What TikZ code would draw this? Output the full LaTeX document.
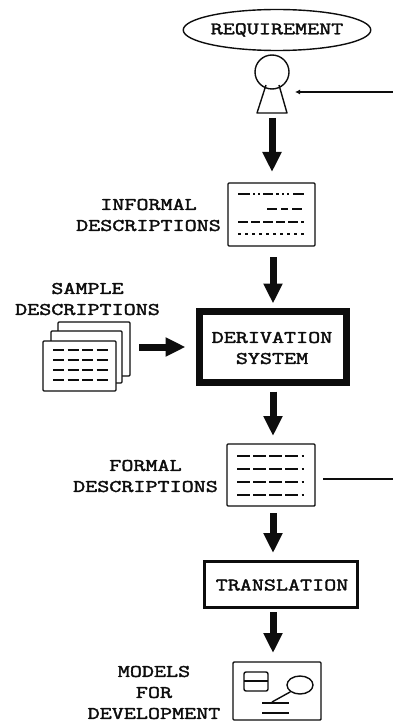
\documentclass[tikz,border=0pt]{standalone}
\usepackage{fontspec}
\usetikzlibrary{arrows.meta,shapes.geometric}
\setmonofont[FakeStretch=1.33,FakeBold=2.2]{Latin Modern Mono}
\definecolor{ink}{gray}{0.05}
\tikzset{
  lab/.style={font=\ttfamily\fontsize{17.6}{21}\selectfont,text=ink,align=center,inner sep=0pt,outer sep=0pt},
  docbox/.style={draw=ink,line width=1.4pt,rectangle,rounded corners=1pt,inner sep=0pt,outer sep=0pt,fill=white},
  procbox/.style={draw=ink,rectangle,inner sep=0pt,outer sep=0pt},
  bigarrow/.style={draw=ink,line width=7pt,-{Triangle[width=18pt,length=20pt,fill=ink]}},
  thin line/.style={draw=ink,line width=1.4pt},
  dashA/.style={thin line,dash pattern=on 12pt off 3pt on 2pt off 3pt on 2pt off 3pt on 10pt off 3pt on 3pt off 3pt on 2pt off 3pt on 2pt off 4pt},
  dashB/.style={thin line,dash pattern=on 10pt off 4pt on 7pt off 4pt},
  dashC/.style={thin line,dash pattern=on 10pt off 3pt on 9pt off 3pt},
  dashD/.style={thin line,dash pattern=on 3pt off 4pt},
  dashE/.style={thin line,dash pattern=on 11pt off 3.5pt},
  dashF/.style={thin line,dash pattern=on 13pt off 3pt on 13pt off 3pt on 13pt off 3pt on 13pt off 3.5pt on 2.5pt off 9pt},
}
\begin{document}
\begin{tikzpicture}[x=1pt,y=-1pt]
\useasboundingbox (0,0) rectangle (393,722);
% requirement
\node[ellipse,draw=ink,line width=1.4pt,minimum width=180pt,minimum height=41pt,inner sep=0pt,lab] (req) at (277,30) {REQUIREMENT};
% person
\node[rectangle,minimum width=46pt,minimum height=58pt,inner sep=0pt,outer sep=0pt] (person) at (272,84) {};
\node[circle,draw=ink,line width=1.4pt,minimum size=34pt,inner sep=0pt] (head) at (272,72) {};
\draw[thin line,line join=round] (266,85) -- (257,113) -- (287,113) -- (279,85);
\coordinate (inR) at (393,92);
\draw[thin line,-{Latex[length=5pt,width=5pt]}] (inR) -- (inR -| person.east);
% informal
\node[docbox,minimum width=87pt,minimum height=63pt] (inf) at (271.5,214.5) {};
\draw[dashA] (238,194) -- (304,194);
\draw[dashB] (267,209) -- (304,209);
\draw[dashC] (238,222) -- (304,222);
\draw[dashD] (238,234) -- (304,234);
\node[lab,anchor=east] (inflab) at (221,215) {\makebox[145pt][c]{INFORMAL}\\DESCRIPTIONS};
% sample stack
\node[docbox,minimum width=72pt,minimum height=54pt] (s3) at (94,349) {};
\node[docbox,minimum width=71pt,minimum height=52pt] (s2) at (86.5,357) {};
\node[docbox,minimum width=73pt,minimum height=50pt] (s1) at (79.5,366) {};
\node[rectangle,minimum width=87pt,minimum height=69pt,inner sep=0pt,outer sep=0pt] (stack) at (86.5,356.5) {};
\foreach \yy in {350,360,370,380} \draw[dashE] (53,\yy) -- (109,\yy);
\node[lab] (samplab) at (87.5,299) {SAMPLE\\DESCRIPTIONS};
% derivation
\node[procbox,line width=7pt,minimum width=147pt,minimum height=71pt] (deriv) at (273,347) {};
\node[lab] (derivlab) at (272,348) {DERIVATION\\SYSTEM};
% formal
\node[docbox,minimum width=88pt,minimum height=62pt] (form) at (271,475) {};
\foreach \yy in {456,469,482,495} \draw[dashF] (237,\yy) -- (304,\yy);
\node[lab,anchor=east] (formlab) at (218,476) {\makebox[145pt][c]{FORMAL}\\DESCRIPTIONS};
\coordinate (outR) at (393,479);
\draw[thin line,shorten <=8pt] (form.east |- outR) -- (outR);
% translation
\node[procbox,line width=3pt,minimum width=153pt,minimum height=46pt,lab] (trans) at (280.5,584) {};
\node[lab] (translab) at (282,585) {TRANSLATION};
% models
\node[docbox,minimum width=88pt,minimum height=58pt] (mod) at (277,691) {};
\draw[thin line,rounded corners=2pt] (244,672) rectangle (268,691);
\draw[thin line] (244,681) -- (268,681);
\node[ellipse,draw=ink,line width=1.4pt,minimum width=26pt,minimum height=18pt,inner sep=0pt] (oval) at (300,685) {};
\draw[thin line] (oval.south west) -- (272,702);
\draw[thin line] (262,703) -- (289,703);
\draw[thin line] (262,713) -- (289,713);
\node[lab] (modlab) at (154,692.5) {MODELS\\FOR\\DEVELOPMENT};
% connectors
\draw[bigarrow,shorten <=5pt,shorten >=11pt] (person.south) -- (person.south |- inf.north);
\draw[bigarrow,shorten <=11pt,shorten >=8pt] (inf.south -| deriv.north) -- (deriv.north);
\draw[bigarrow,shorten <=9pt,shorten >=14pt] (deriv.west -| stack.east) -- (deriv.west);
\draw[bigarrow,shorten <=9pt,shorten >=8pt] (deriv.south) -- (deriv.south |- form.north);
\draw[bigarrow,shorten <=7pt,shorten >=8pt] (form.south -| deriv.south) -- (deriv.south |- trans.north);
\draw[bigarrow,shorten <=5pt,shorten >=9pt] (trans.south -| deriv.south) -- (deriv.south |- mod.north);
\end{tikzpicture}
\end{document}
